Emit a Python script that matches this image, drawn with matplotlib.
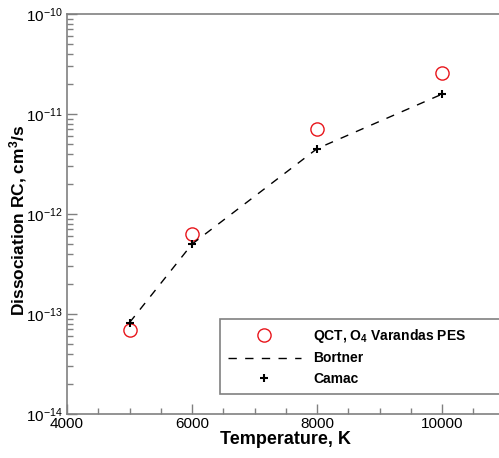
import matplotlib
matplotlib.use("Agg")
import matplotlib.pyplot as plt
from matplotlib.ticker import LogLocator, MultipleLocator, NullFormatter

plt.rcParams['font.family'] = ['Liberation Sans', 'DejaVu Sans']
plt.rcParams['mathtext.fontset'] = 'custom'
plt.rcParams['mathtext.rm'] = 'Liberation Sans'
plt.rcParams['mathtext.bf'] = 'Liberation Sans:bold'
plt.rcParams['mathtext.it'] = 'Liberation Sans:italic'

# data
temps = [5000, 6000, 8000, 10000]
qct = [6.9e-14, 6.3e-13, 7.1e-12, 2.55e-11]
bortner = [8.2e-14, 5.0e-13, 4.5e-12, 1.58e-11]
camac = [8.2e-14, 5.0e-13, 4.47e-12, 1.58e-11]

spine_col = '#808080'

fig = plt.figure(figsize=(4.99, 4.58), dpi=100)
ax = fig.add_axes([0.1343, 0.0961, 0.877, 0.8734])

ax.plot(temps, qct, linestyle='none', marker='o', markersize=9.5,
        markerfacecolor='none', markeredgecolor='#e8151b', markeredgewidth=1.0,
        label='QCT, O$_{\\mathbf{4}}$ Varandas PES')
ax.plot(temps, bortner, color='black', linewidth=1.0,
        linestyle=(0, (6, 6)), label='Bortner')
ax.plot(temps, camac, linestyle='none', marker='+', markersize=6,
        markeredgewidth=1.5, color='black', label='Camac')

ax.set_yscale('log')
ax.set_xlim(4000, 11000)
ax.set_ylim(1e-14, 1e-10)

ax.xaxis.set_major_locator(MultipleLocator(2000))
ax.xaxis.set_minor_locator(MultipleLocator(500))
ax.yaxis.set_major_locator(LogLocator(base=10, numticks=10))
ax.yaxis.set_minor_locator(LogLocator(base=10, subs=range(2, 10), numticks=20))
ax.yaxis.set_minor_formatter(NullFormatter())

ax.tick_params(axis='both', which='both', direction='in', colors=spine_col,
               labelcolor='black', labelsize=11, top=False, right=False)
ax.tick_params(axis='both', which='major', length=7, width=1)
ax.tick_params(axis='both', which='minor', length=4, width=1)
ax.tick_params(axis='x', pad=2)
ax.tick_params(axis='y', pad=3)
for s in ax.spines.values():
    s.set_color(spine_col)
    s.set_linewidth(1.2)

ax.set_xlabel('Temperature, K', fontsize=13, fontweight='bold', labelpad=0)
ax.set_ylabel('Dissociation RC, cm$^{\\mathbf{3}}$/s', fontsize=12.5,
              fontweight='bold')
ax.yaxis.set_label_coords(-0.087, 0.485)

leg = ax.legend(loc='lower left', bbox_to_anchor=(0.3497, 0.05, 0.6503, 0.19),
                mode='expand', prop={'weight': 'bold', 'size': 10},
                handlelength=5.2, handletextpad=0.9, labelspacing=0.45,
                borderpad=0.6, fancybox=False, framealpha=1, borderaxespad=0)
leg.get_frame().set_edgecolor(spine_col)
leg.get_frame().set_linewidth(1.2)

fig.savefig('out.png', dpi=100)
